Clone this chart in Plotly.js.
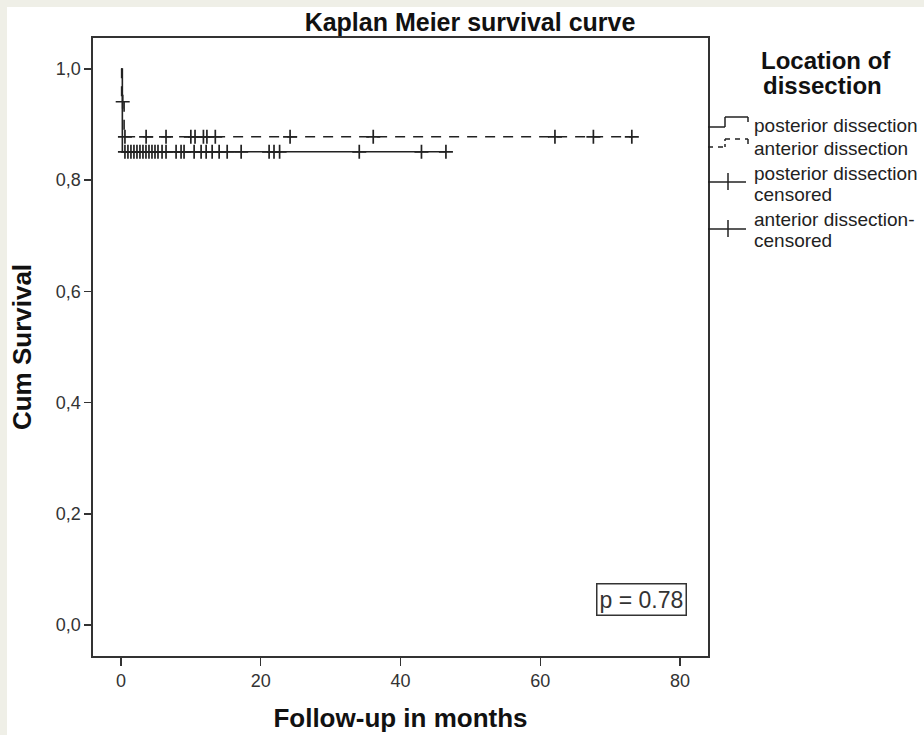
<!DOCTYPE html>
<html>
<head>
<meta charset="utf-8">
<script src="https://cdn.plot.ly/plotly-3.0.1.min.js"></script>
<style>
html,body{margin:0;padding:0;background:#efefe7;}
#chart{width:924px;height:735px;}
</style>
</head>
<body>
<div id="chart"></div>
<script>
// ---- data ----
const posteriorTime = [0, 0.2, 46.5];
const posteriorSurv = [1.0, 0.851, 0.851];
const anteriorTime = [0, 0.1, 0.45, 73.3];
const anteriorSurv = [1.0, 0.941, 0.878, 0.878];
const posteriorCensorTime = [0.57, 1.0, 1.43, 1.86, 2.29, 2.72, 3.15, 3.58, 4.01, 4.44, 4.87, 5.3, 5.88, 6.45, 7.89, 8.6, 9.03, 10.47, 11.47, 12.19, 13.05, 14.05, 15.2, 17.2, 21.2, 21.9, 22.7, 34.1, 43.0, 46.5];
const posteriorCensorSurv = [0.851, 0.851, 0.851, 0.851, 0.851, 0.851, 0.851, 0.851, 0.851, 0.851, 0.851, 0.851, 0.851, 0.851, 0.851, 0.851, 0.851, 0.851, 0.851, 0.851, 0.851, 0.851, 0.851, 0.851, 0.851, 0.851, 0.851, 0.851, 0.851, 0.851];
const anteriorCensorTime = [0.25, 0.57, 3.6, 6.45, 10.0, 10.6, 11.8, 12.3, 13.5, 24.2, 36.1, 62.1, 67.6, 73.1];
const anteriorCensorSurv = [0.941, 0.878, 0.878, 0.878, 0.878, 0.878, 0.878, 0.878, 0.878, 0.878, 0.878, 0.878, 0.878, 0.878];
const xTicks = [0, 20, 40, 60, 80];
const yTicks = [0, 0.2, 0.4, 0.6, 0.8, 1.0];
const yTickText = ['0,0', '0,2', '0,4', '0,6', '0,8', '1,0'];
const seriesNames = ['posterior dissection', 'anterior dissection'];
const censorNames = [['posterior dissection', 'censored'], ['anterior dissection-', 'censored']];
const pValueText = 'p = 0.78';

// ---- layout helpers (pixel -> paper) ----
const M = {l: 93, r: 216, t: 38, b: 79};
const W = 924, H = 735;
const PW = W - M.l - M.r, PH = H - M.t - M.b;
const px = v => (v - M.l) / PW;
const py = v => (H - M.b - v) / PH;
const FONT = 'Liberation Sans, Arial, sans-serif';
const INK = '#222';

const traces = [
  {x: posteriorTime, y: posteriorSurv, mode: 'lines', line: {color: INK, width: 1.6, shape: 'hv'}, name: seriesNames[0], hoverinfo: 'skip'},
  {x: anteriorTime, y: anteriorSurv, mode: 'lines', line: {color: INK, width: 1.6, shape: 'hv', dash: '10px,8px'}, name: seriesNames[1], hoverinfo: 'skip'},
  {x: posteriorCensorTime, y: posteriorCensorSurv, mode: 'markers', marker: {symbol: 'cross-thin', size: 10, line: {color: INK, width: 1.7}}, name: censorNames[0].join(' '), hoverinfo: 'skip'},
  {x: anteriorCensorTime, y: anteriorCensorSurv, mode: 'markers', marker: {symbol: 'cross-thin', size: 10, line: {color: INK, width: 1.7}}, name: censorNames[1].join(' '), hoverinfo: 'skip'}
];

function seg(x0, y0, x1, y1, dash) {
  return {type: 'line', xref: 'paper', yref: 'paper', x0: px(x0), y0: py(y0), x1: px(x1), y1: py(y1),
    line: {color: INK, width: 1.5, dash: dash || 'solid'}};
}
const shapes = [
  // white panel
  {type: 'rect', xref: 'paper', yref: 'paper', x0: px(7), x1: px(930), y0: py(7), y1: py(740), fillcolor: '#ffffff', line: {width: 0}, layer: 'below'},
  // legend glyphs
  seg(708, 127, 725, 127), seg(725, 127, 725, 117), seg(725, 117, 748, 117), seg(748, 117, 748, 122),
  seg(708, 147, 725, 147, '5px,5px'), seg(725, 147, 725, 139, '3px,3px'), seg(725, 139, 748, 139, '5px,5px'), seg(748, 139, 748, 144),
  seg(708, 182, 746, 182), seg(728, 173, 728, 190),
  seg(708, 229, 746, 229), seg(728, 220, 728, 237)
];

function txt(x, y, s, opts) {
  return Object.assign({xref: 'paper', yref: 'paper', x: px(x), y: py(y), text: s, showarrow: false,
    xanchor: 'left', yanchor: 'middle', font: {family: FONT, size: 19, color: INK}}, opts || {});
}
const annotations = [
  txt(826, 60, '<b>Location of</b>', {xanchor: 'center', font: {family: FONT, size: 24, color: '#111'}}),
  txt(822, 85, '<b>dissection</b>', {xanchor: 'center', font: {family: FONT, size: 24, color: '#111'}}),
  txt(752, 125, seriesNames[0]),
  txt(752, 148, seriesNames[1]),
  txt(752, 173, censorNames[0][0]),
  txt(752, 194, censorNames[0][1]),
  txt(752, 219, censorNames[1][0]),
  txt(752, 240, censorNames[1][1]),
  {xref: 'x', yref: 'y', x: 74.55, y: 0.045, text: pValueText, showarrow: false, xanchor: 'center', yanchor: 'middle',
    font: {family: FONT, size: 23, color: '#333'}, bordercolor: '#333', borderwidth: 1.5, borderpad: 2, bgcolor: '#fff'}
];

const layout = {
  width: W, height: H,
  margin: M,
  paper_bgcolor: '#efefe7',
  plot_bgcolor: '#ffffff',
  showlegend: false,
  title: {text: '<b>Kaplan Meier survival curve</b>', x: 470 / W, xref: 'container', xanchor: 'center',
    y: 1 - 22 / H, yref: 'container', yanchor: 'middle', font: {family: FONT, size: 25, color: '#111'}},
  xaxis: {range: [-4, 84], tickvals: xTicks, ticks: 'outside', ticklen: 8, tickwidth: 1.5, tickcolor: '#333',
    showline: true, mirror: true, linecolor: '#333', linewidth: 1.6, showgrid: false, zeroline: false,
    tickfont: {family: FONT, size: 18, color: '#333'},
    title: {text: '<b>Follow-up in months</b>', standoff: 18, font: {family: FONT, size: 26, color: '#111'}}},
  yaxis: {range: [-0.0558, 1.0557], tickvals: yTicks, ticktext: yTickText, ticks: 'outside', ticklen: 7, tickwidth: 1.5, tickcolor: '#333',
    showline: true, mirror: true, linecolor: '#333', linewidth: 1.6, showgrid: false, zeroline: false,
    tickfont: {family: FONT, size: 18, color: '#333'},
    title: {text: '<b>Cum Survival</b>', standoff: 16, font: {family: FONT, size: 26, color: '#111'}}},
  shapes: shapes,
  annotations: annotations
};

Plotly.newPlot('chart', traces, layout, {displayModeBar: false, staticPlot: true});
</script>
</body>
</html>
